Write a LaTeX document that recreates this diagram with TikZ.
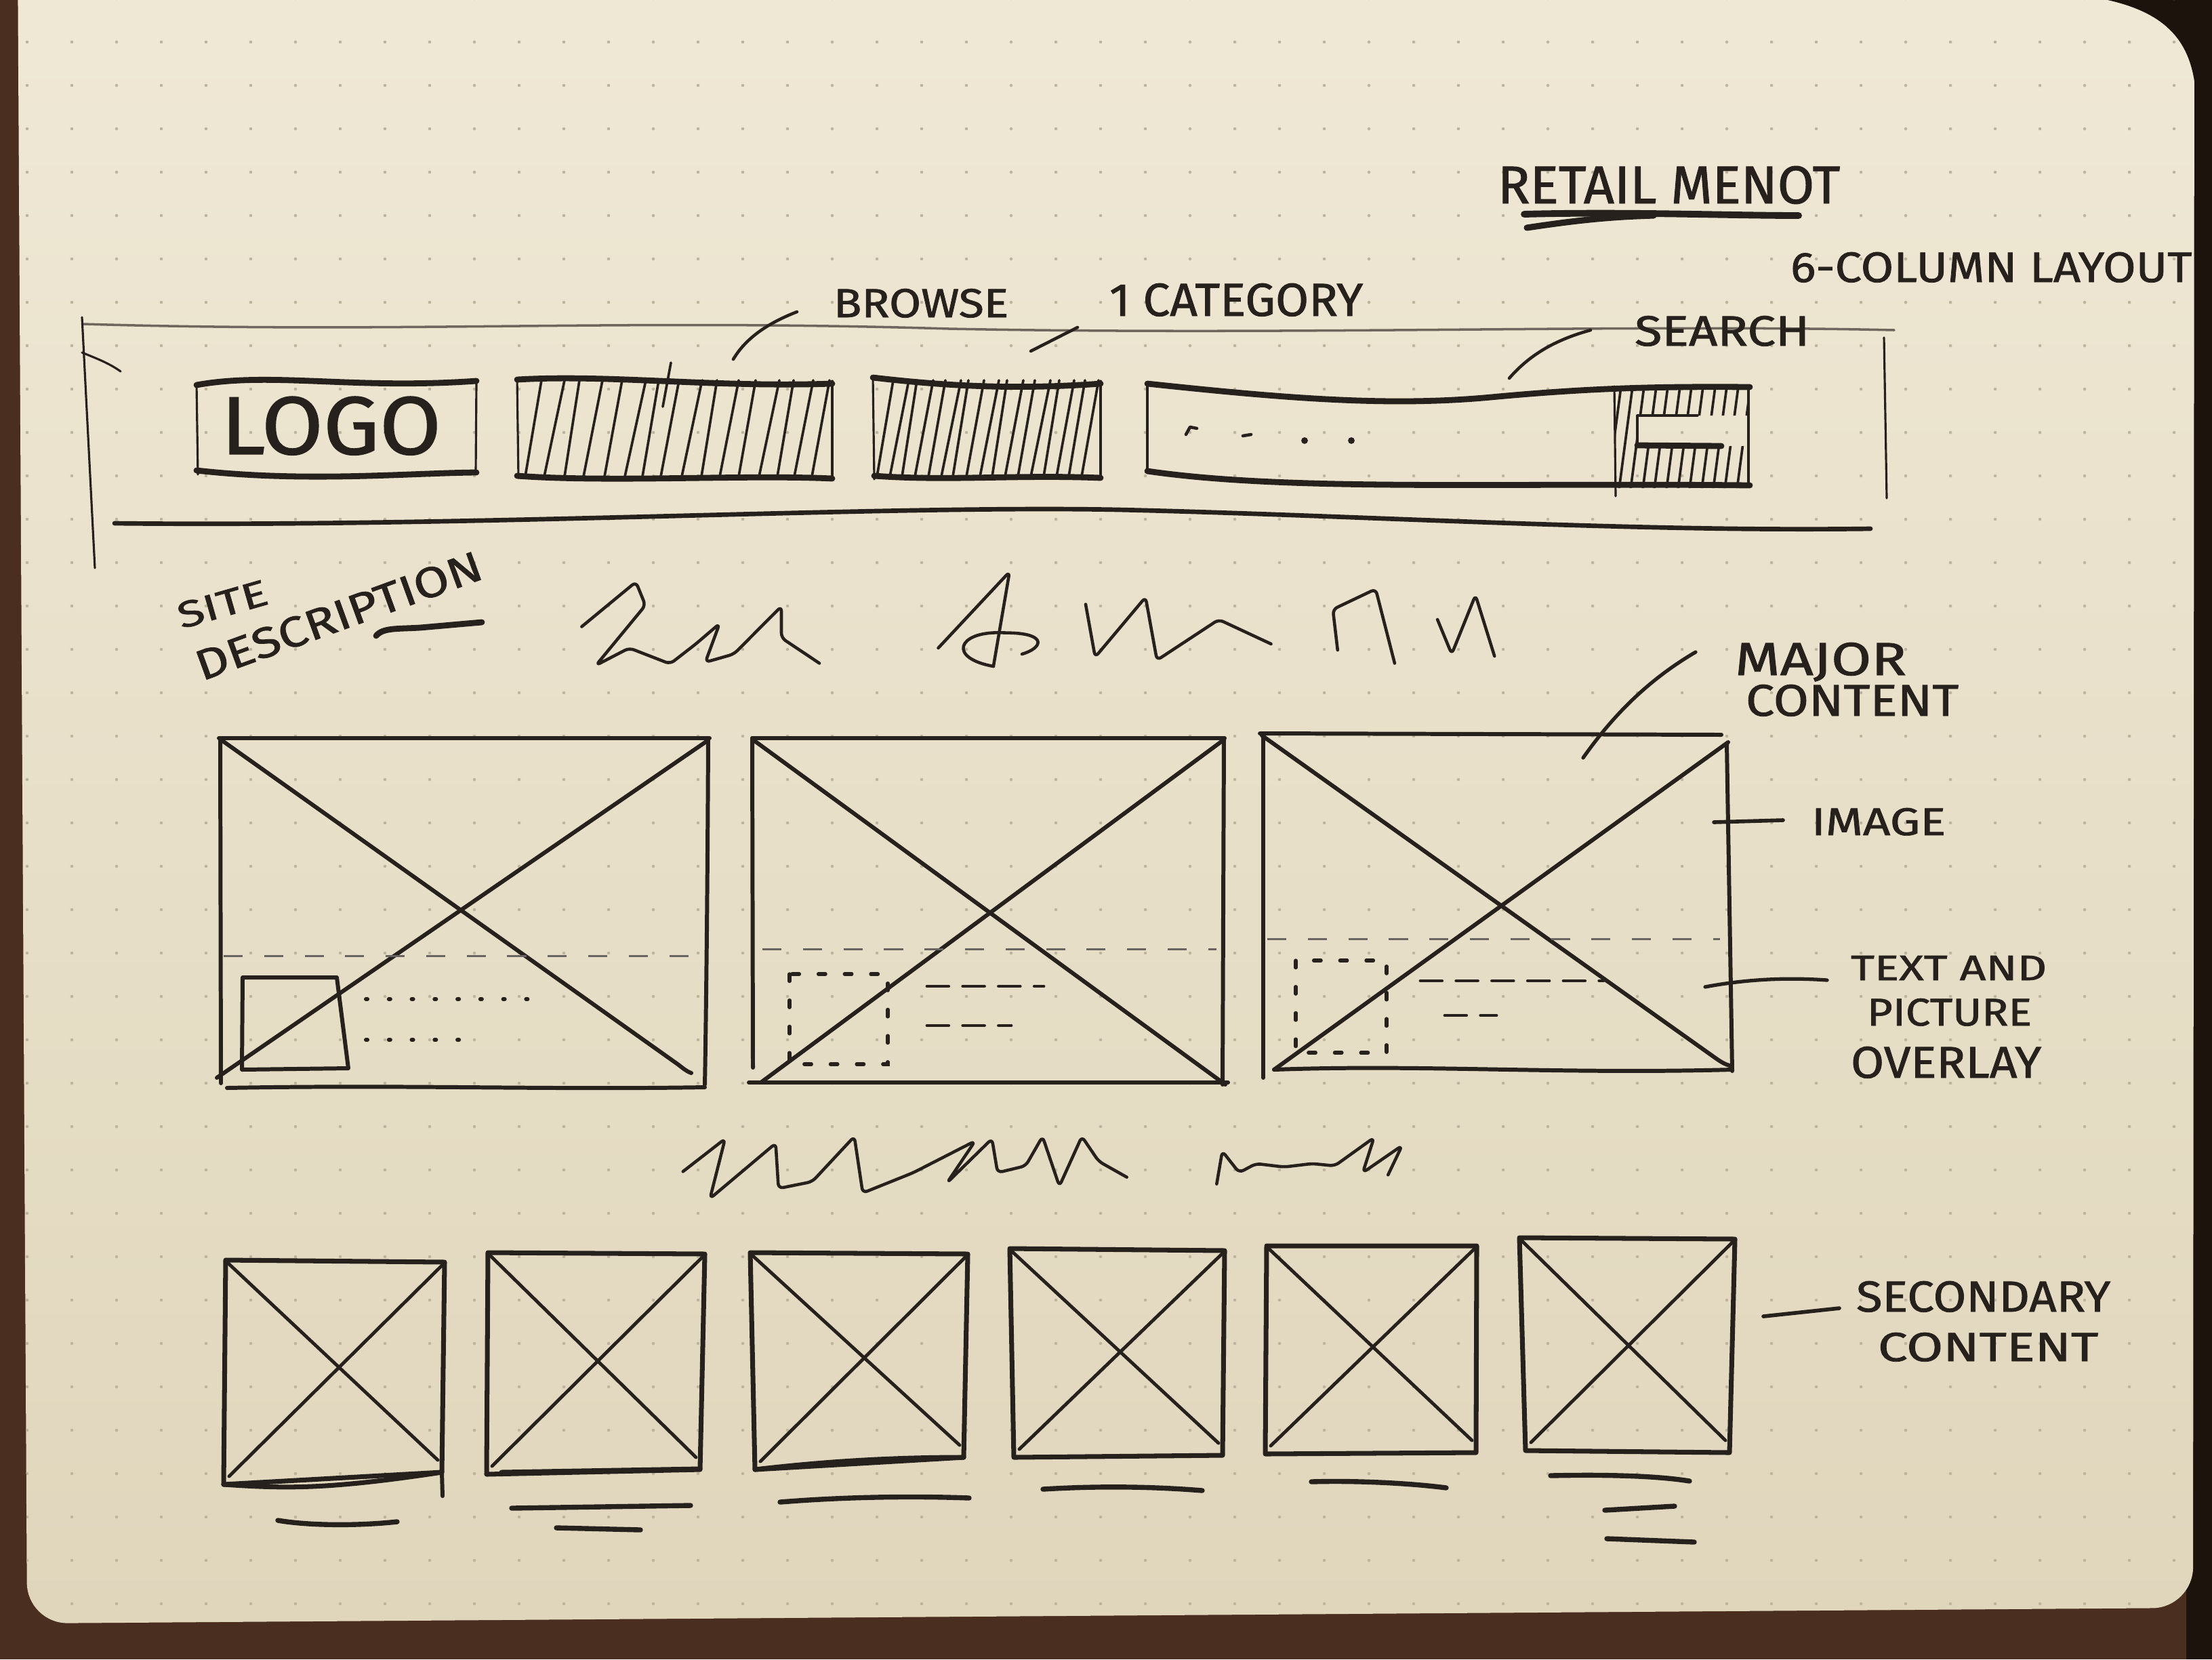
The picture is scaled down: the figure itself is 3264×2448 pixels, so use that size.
\documentclass[tikz,border=0pt]{standalone}
\usepackage{fontspec}
\setmainfont{Fira Sans}[FakeBold=1.2]
\usepackage{graphicx}
\definecolor{desk}{HTML}{4A2E1F}
\definecolor{deskdark}{HTML}{1C130D}
\definecolor{paper}{HTML}{F0E9D6}
\definecolor{paperlow}{HTML}{E0D6BC}
\definecolor{inkc}{HTML}{26211D}
\definecolor{graphite}{HTML}{6E675E}
\definecolor{dotc}{HTML}{BDB49E}
% hand lettering: text squeezed into a given width and cap height
\newcommand{\hand}[3]{\resizebox{#1}{#2}{#3}}
\begin{document}
\begin{tikzpicture}[x=0.01cm,y=-0.01cm,
  ink/.style={draw=inkc,line width=1.7pt,line cap=round,line join=round},
  heavy/.style={draw=inkc,line width=2.5pt,line cap=round,line join=round},
  pen/.style={draw=inkc,line width=1.3pt,line cap=round,line join=round},
  thinpen/.style={draw=inkc,line width=0.9pt,line cap=round},
  pencil/.style={draw=graphite,line width=1.0pt,line cap=round},
  hatch/.style={draw=inkc,line width=1.05pt,line cap=round},
  guide/.style={draw=inkc!70,line width=0.85pt,dash pattern=on 8pt off 9pt},
  dotline/.style={draw=inkc,line width=1.7pt,line cap=round,dash pattern=on 0.6pt off 9pt},
  dotrect/.style={draw=inkc,line width=1.5pt,line cap=round,dash pattern=on 3pt off 8pt},
  textrow/.style={draw=inkc,line width=1.4pt,line cap=round,dash pattern=on 9pt off 6pt},
  scrib/.style={draw=inkc,line width=1.3pt,line cap=round,line join=round,rounded corners=2pt},
  lbl/.style={inner sep=0pt,outer sep=0pt,text=inkc,anchor=base west}]
\useasboundingbox (0,0) rectangle (3264,2448);

% desk and notebook page
\fill[desk] (0,0) rectangle (3264,2448);
\fill[deskdark] (3226,0) rectangle (3264,2448);
\shade[top color=paper,bottom color=paperlow,rounded corners=0.6cm]
  (26,-80) -- (3238,-80) -- (3236,2372) -- (40,2395) -- cycle;
\fill[deskdark] (3110,0) .. controls (3190,18) and (3228,55) .. (3238,120) -- (3264,120) -- (3264,0) -- cycle;

% dot grid
\begin{scope}
  \clip[rounded corners=0.6cm] (26,-80) -- (3238,-80) -- (3236,2372) -- (40,2395) -- cycle;
  \foreach \i in {0,...,49}
    \foreach \j in {0,...,38}
      \fill[dotc] (40+66*\i,-2+64*\j) circle (0.65pt);
\end{scope}

% ---- title block
\node[lbl] (title) at (2210,300) {\hand{5.05cm}{0.55cm}{RETAIL MENOT}};
\draw[heavy,line width=2.8pt] (2249,316) .. controls (2400,312) and (2550,318) .. (2654,318);
\draw[heavy,line width=2.6pt] (2253,336) .. controls (2320,326) and (2370,320) .. (2440,318);
\node[lbl] (layout) at (2642,416) {\hand{5.92cm}{0.44cm}{6-COLUMN LAYOUT}};

% ---- header bar frame
\draw[pencil] (122,478) .. controls (600,492) and (900,470) .. (1400,485)
  .. controls (1900,495) and (2400,478) .. (2795,487);
\draw[thinpen] (121,468) -- (140,838);
\draw[thinpen] (121,520) .. controls (140,528) and (160,535) .. (178,548);
\draw[thinpen] (2780,498) -- (2784,735);
\draw[ink,line width=1.9pt] (169,772) .. controls (700,778) and (1300,745) .. (1650,752)
  .. controls (2000,760) and (2400,785) .. (2760,780);

% logo box
\draw[thinpen] (290,566) -- (292,700);
\draw[thinpen] (703,564) -- (702,698);
\draw[heavy] (290,568) .. controls (400,548) and (520,575) .. (703,562);
\draw[heavy] (290,694) .. controls (450,712) and (600,698) .. (703,697);
\node[lbl] (logo) at (326,670) {\hand{3.25cm}{0.85cm}{LOGO}};

% browse box
\draw[thinpen] (763,558) -- (765,705);
\draw[thinpen] (1228,562) -- (1228,706);
\draw[heavy] (763,560) .. controls (900,552) and (1050,572) .. (1228,566);
\draw[heavy] (763,702) .. controls (900,712) and (1100,700) .. (1228,706);
\foreach \x/\d in {775/24,803/30,833/22,861/28,892/26,922/31,948/24,975/27,1006/30,1035/23,1062/28,1090/25,1120/30,1147/24,1172/28,1198/26}
  \draw[hatch] (\x,703) -- ++(\d,-142);
\draw[hatch] (978,600) -- (990,535);

% category box
\draw[thinpen] (1288,556) -- (1290,707);
\draw[thinpen] (1624,562) -- (1624,707);
\draw[heavy] (1288,557) .. controls (1400,570) and (1500,575) .. (1624,566);
\draw[heavy] (1290,702) .. controls (1400,710) and (1500,700) .. (1624,705);
\foreach \x/\d in {1294/24,1313/28,1331/22,1350/27,1370/25,1389/29,1406/23,1426/26,1446/28,1464/22,1483/27,1502/25,1521/29,1540/23,1559/26,1577/24,1596/25}
  \draw[hatch] (\x,703) -- ++(\d,-142);

% search field and button
\draw[thinpen] (1693,566) -- (1693,697);
\draw[heavy] (1693,566) .. controls (1900,588) and (2050,600) .. (2200,586)
  .. controls (2350,572) and (2450,570) .. (2582,571);
\draw[heavy] (1693,695) .. controls (1900,725) and (2200,712) .. (2582,716);
\draw[thinpen] (2580,571) -- (2580,716);
\draw[thinpen] (2382,570) -- (2384,732);
\begin{scope}
  \clip (2382,570) rectangle (2580,613) (2382,658) rectangle (2580,720) (2382,613) rectangle (2416,658);
  \foreach \x in {2372,2389,2406,2424,2441,2459,2476,2493,2511,2528,2545,2563}
    \draw[hatch] (\x,722) -- ++(20,-152);
\end{scope}
\draw[thinpen] (2416,613) -- (2505,613);
\draw[heavy] (2416,657) -- (2540,658);
\draw[thinpen] (2416,613) -- (2416,657);
\draw[pen] (1750,641) -- (1756,630) -- (1766,632);
\draw[pen] (1834,643) -- (1846,641);
\fill[inkc] (1925,650) circle (1.4pt) (1994,650) circle (1.4pt);

% header callouts
\node[lbl] (browse) at (1230,468) {\hand{2.58cm}{0.42cm}{BROWSE}};
\node[lbl] (category) at (1637,466) {\hand{3.74cm}{0.48cm}{1 CATEGORY}};
\node[lbl] (search) at (2412,510) {\hand{2.58cm}{0.44cm}{SEARCH}};
\coordinate (browseend) at (1082,530);
\coordinate (catend) at (1521,518);
\coordinate (searchend) at (2227,558);
\draw[pen] (browseend) .. controls (1100,500) and (1130,478) .. (1176,460);
\draw[pen] (catend) -- (1590,483);
\draw[pen] (searchend) .. controls (2260,520) and (2300,500) .. (2347,487);

% ---- site description
\node[lbl,rotate=16] (site) at (268,928) {\hand{1.36cm}{0.38cm}{SITE}};
\node[lbl,rotate=20] (descr) at (298,1005) {\hand{4.45cm}{0.44cm}{DESCRIPTION}};
\draw[heavy] (555,938) .. controls (565,926) and (585,928) .. (620,926) -- (711,918);

% scribbled tagline
\begin{scope}[shift={(220,815)},xscale=1.403,yscale=0.3]
  \draw[scrib] (455,365) -- (512,145) -- (522,260) -- (470,555) -- (505,470) -- (548,548)
    -- (575,450) -- (600,350) -- (585,540) -- (615,500) -- (665,265) -- (665,420) -- (705,545);
  \draw[scrib] (830,470) -- (905,95) -- (888,560);
  \draw[scrib] (888,560) .. controls (840,520) and (850,390) .. (900,395) .. controls (945,400) and (940,470) .. (918,500);
  \draw[scrib] (985,255) -- (995,515) -- (1048,220) -- (1060,530) -- (1125,330) -- (1180,450);
  \draw[scrib] (1250,480) -- (1245,280) -- (1290,180) -- (1310,545);
  \draw[scrib] (1355,330) -- (1370,500) -- (1395,210) -- (1415,510);
\end{scope}

% ---- major content: three image panels
% panel 1
\draw[ink] (323,1089) -- (1047,1089);
\draw[ink] (325,1089) -- (326,1598);
\draw[ink] (1045,1090) .. controls (1044,1300) and (1042,1500) .. (1040,1600);
\draw[ink] (335,1605) .. controls (600,1600) and (800,1608) .. (1040,1604);
\draw[ink] (327,1092) -- (1000,1570) .. controls (1008,1576) and (1012,1580) .. (1020,1583);
\draw[ink] (1045,1092) -- (320,1590);
\draw[guide] (330,1410) -- (1035,1410);
\draw[ink] (358,1442) -- (497,1442) -- (514,1576) -- (357,1578) -- cycle;
\draw[dotline] (540,1474) -- (800,1474);
\draw[dotline] (540,1534) -- (690,1534);
% panel 2
\draw[ink] (1110,1089) -- (1807,1089);
\draw[ink] (1110,1089) -- (1111,1575);
\draw[ink] (1806,1089) -- (1804,1600);
\draw[ink] (1105,1597) -- (1812,1597);
\draw[ink] (1112,1092) -- (1808,1600);
\draw[ink] (1805,1092) -- (1124,1596);
\draw[guide] (1125,1400) -- (1795,1400);
\draw[dotrect] (1165,1437) rectangle (1310,1570);
\draw[textrow] (1368,1455) -- (1540,1455);
\draw[textrow] (1368,1513) -- (1492,1513);
% panel 3
\draw[ink] (1859,1082) -- (2540,1084);
\draw[ink] (1864,1082) -- (1864,1590);
\draw[ink] (2548,1098) -- (2556,1580);
\draw[ink] (1880,1578) .. controls (2100,1570) and (2300,1585) .. (2556,1578);
\draw[ink] (1862,1085) -- (2530,1560) .. controls (2540,1567) and (2545,1570) .. (2552,1572);
\draw[ink] (2550,1095) -- (1880,1578);
\draw[guide] (1870,1385) -- (2538,1385);
\draw[dotrect] (1912,1417) rectangle (2046,1553);
\draw[textrow] (2096,1447) -- (2366,1447);
\draw[textrow] (2132,1498) -- (2208,1498);

% panel callouts
\node[lbl] (major) at (2560,996) {\hand{2.53cm}{0.48cm}{MAJOR}};
\node[lbl] (majcontent) at (2576,1056) {\hand{3.14cm}{0.46cm}{CONTENT}};
\node[lbl] (image) at (2673,1232) {\hand{1.98cm}{0.40cm}{IMAGE}};
\node[lbl] (textand) at (2731,1446) {\hand{2.89cm}{0.36cm}{TEXT AND}};
\node[lbl] (picture) at (2755,1513) {\hand{2.43cm}{0.40cm}{PICTURE}};
\node[lbl] (overlay) at (2731,1590) {\hand{2.81cm}{0.46cm}{OVERLAY}};
\coordinate (majorend) at (2336,1118);
\coordinate (imageend) at (2529,1213);
\coordinate (overlayend) at (2516,1456);
\draw[pen,line width=1.5pt] (majorend) .. controls (2370,1070) and (2420,1010) .. (2502,962);
\draw[pen,line width=1.6pt] (imageend) -- (2631,1210);
\draw[pen,line width=1.5pt] (overlayend) .. controls (2580,1444) and (2640,1442) .. (2696,1446);

% second scribbled line
\begin{scope}[shift={(900,1620)},xscale=0.829,yscale=0.3333]
  \draw[scrib] (130,325) -- (205,180) -- (178,445) -- (295,200) -- (300,400) -- (360,370)
    -- (435,170) -- (450,420) -- (540,330) -- (650,190) -- (600,375) -- (680,180) -- (690,330)
    -- (740,300) -- (770,170) -- (800,390) -- (840,170) -- (870,280) -- (920,350);
  \draw[scrib] (1080,380) -- (1090,235) -- (1120,330) -- (1150,290) -- (1200,305) -- (1250,290)
    -- (1290,300) -- (1360,175) -- (1340,330) -- (1410,210) -- (1385,340);
\end{scope}

% ---- secondary content: six tiles
\foreach \tlx/\tly/\trx/\try/\brx/\bry/\blx/\bly in {
    333/1859/656/1862/652/2172/330/2190,
    720/1848/1040/1850/1033/2168/718/2175,
    1107/1848/1428/1850/1422/2150/1114/2168,
    1490/1842/1807/1845/1804/2147/1496/2150,
    1869/1838/2179/1838/2178/2143/1867/2145,
    2242/1826/2560/1828/2552/2143/2251/2140}{
  \draw[ink,line width=2.0pt] (\tlx,\tly) -- (\trx,\try) -- (\brx,\bry) -- (\blx,\bly) -- cycle;
  \draw[ink,line width=1.4pt] (\tlx+3,\tly+4) -- (\brx-6,\bry-18);
  \draw[ink,line width=1.4pt] (\trx-3,\try+4) -- (\blx+8,\bly-12);
}
\draw[ink] (652,2172) -- (653,2207);
\draw[ink,line width=2.0pt] (330,2190) .. controls (420,2196) and (480,2198) .. (652,2172);
\draw[ink,line width=2.0pt] (740,2172) -- (1033,2167);
\draw[ink,line width=2.0pt] (1114,2168) .. controls (1200,2158) and (1300,2150) .. (1422,2150);

% caption rules under the tiles
\draw[heavy,line width=2.1pt] (410,2243) .. controls (450,2250) and (520,2252) .. (586,2245);
\draw[heavy,line width=2.1pt] (755,2225) -- (1019,2221);
\draw[heavy,line width=2.1pt] (821,2254) -- (945,2257);
\draw[heavy,line width=2.1pt] (1151,2216) .. controls (1250,2208) and (1350,2207) .. (1430,2210);
\draw[heavy,line width=2.1pt] (1539,2197) .. controls (1620,2192) and (1700,2193) .. (1774,2199);
\draw[heavy,line width=2.1pt] (1935,2186) .. controls (2000,2184) and (2080,2188) .. (2134,2195);
\draw[heavy,line width=2.1pt] (2288,2177) .. controls (2380,2175) and (2450,2178) .. (2493,2185);
\draw[heavy,line width=2.1pt] (2368,2228) -- (2471,2222);
\draw[heavy,line width=2.1pt] (2371,2270) -- (2500,2275);

% tile callout
\node[lbl] (secondary) at (2739,1935) {\hand{3.75cm}{0.45cm}{SECONDARY}};
\node[lbl] (seccontent) at (2771,2008) {\hand{3.25cm}{0.42cm}{CONTENT}};
\coordinate (tileend) at (2602,1942);
\draw[pen,line width=1.6pt] (tileend) -- (2714,1930);
\end{tikzpicture}
\end{document}
